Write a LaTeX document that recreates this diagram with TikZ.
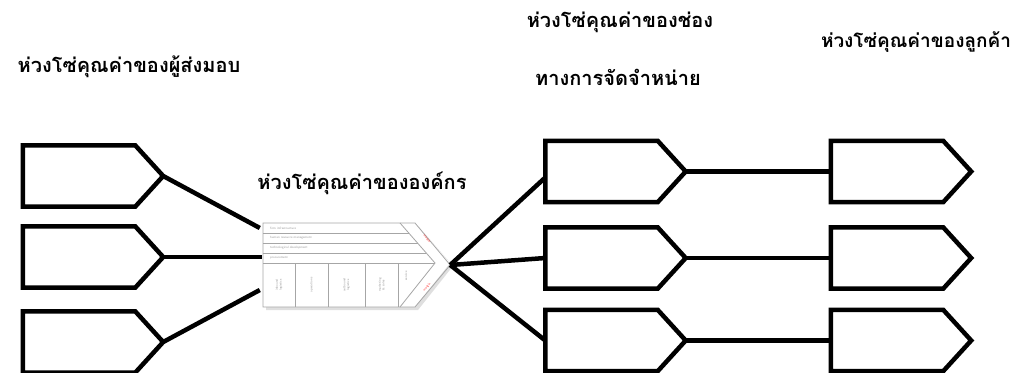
\documentclass[tikz,border=0pt]{standalone}
\usepackage{fontspec}
\newfontfamily\thaifont[Script=Thai]{Loma}
\usetikzlibrary{calc}
\begin{document}
\begin{tikzpicture}[x=1pt,y=-1pt,
  chain/.style={draw=none, minimum width=140pt, minimum height=61pt, inner sep=0pt},
  outl/.style={line width=4.5pt, line join=miter, black},
  link/.style={line width=4.5pt, black},
  lbl/.style={font=\thaifont\bfseries\fontsize{20}{24}\selectfont, inner sep=0pt, text=black},
  vcline/.style={draw=gray!70, line width=0.8pt},
  tiny/.style={font=\sffamily\fontsize{3.2}{3.6}\selectfont, text=gray!80, inner sep=0pt},
  margintxt/.style={font=\sffamily\fontsize{3.2}{3.6}\selectfont, text=red!80, inner sep=0pt}
]
\useasboundingbox (0,0) rectangle (1019,372);
\newcommand{\pent}[1]{\draw[outl] (#1.north west) -- ([xshift=-28pt]#1.north east) -- (#1.east) -- ([xshift=-28pt]#1.south east) -- (#1.south west) -- cycle;}

% supplier chains
\node[chain] (s1) at (93,176) {};
\node[chain] (s2) at (93,257) {};
\node[chain] (s3) at (93,342) {};
% channel chains
\node[chain] (c1) at (615.5,171.5) {};
\node[chain] (c2) at (615.5,258) {};
\node[chain] (c3) at (615.5,340.5) {};
% customer chains
\node[chain] (k1) at (901,171.5) {};
\node[chain] (k2) at (901,258) {};
\node[chain] (k3) at (901,340.5) {};
\foreach \n in {s1,s2,s3,c1,c2,c3,k1,k2,k3}{\pent{\n}}

% organisation value chain
\node[draw=none, minimum width=187pt, minimum height=84pt, inner sep=0pt] (vc) at (356.5,265) {};
\fill[gray!25] (266,226) -- (418,226) -- (453,266) -- (418,310) -- (266,310) -- cycle;
\fill[white] (263,223) -- (415,223) -- (450,263) -- (415,307) -- (263,307) -- cycle;
\draw[vcline] (263,223) -- (415,223) -- (vc.east) -- (415,307) -- (263,307) -- cycle;
\draw[vcline] (400,223) -- (435,263) -- (400,307);
\foreach \y in {233,243,253}{\draw[vcline] (263,\y) -- ({400+35*(\y-223)/40},\y);}
\draw[vcline] (263,263) -- (435,263);
\foreach \x in {295,328,365,398}{\draw[vcline] (\x,263) -- (\x,307);}
\node[tiny, anchor=west] (sa1) at (270,228) {firm infrastructure};
\node[tiny, anchor=west] (sa2) at (270,238) {human resource management};
\node[tiny, anchor=west] (sa3) at (270,248) {technological development};
\node[tiny, anchor=west] (sa4) at (270,258) {procurement};
\node[tiny, rotate=90, align=center] (pa1) at (279,285) {inbound\\logistics};
\node[tiny, rotate=90, align=center] (pa2) at (311.5,285) {operations};
\node[tiny, rotate=90, align=center] (pa3) at (346.5,285) {outbound\\logistics};
\node[tiny, rotate=90, align=center] (pa4) at (381.5,285) {marketing\\\& sales};
\node[tiny, rotate=90, align=center] (pa5) at (406,276) {service};
\node[margintxt, rotate=-49] (m1) at (427,239) {margin};
\node[margintxt, rotate=49] (m2) at (427,287) {margin};

% connectors
\draw[link] (s1.east) -- ([xshift=-3pt,yshift=37pt]vc.west);
\draw[link] (s2.east) -- ([xshift=-1pt,yshift=8pt]vc.west);
\draw[link] (s3.east) -- ([xshift=-3pt,yshift=-25pt]vc.west);
\draw[link] (vc.east) -- ([yshift=-6pt]c1.west);
\draw[link] (vc.east) -- (c2.west);
\draw[link] (vc.east) -- (c3.west);
\draw[link] (c1.east) -- (k1.west);
\draw[link] (c2.east) -- (k2.west);
\draw[link] (c3.east) -- (k3.west);

% labels
\node[lbl] (t1) at (129,67) {ห่วงโซ่คุณค่าของผู้ส่งมอบ};
\node[lbl] (t2) at (362,183) {ห่วงโซ่คุณค่าขององค์กร};
\node[lbl] (t3) at (620,22) {ห่วงโซ่คุณค่าของช่อง};
\node[lbl] (t4) at (618,77) {ทางการจัดจำหน่าย};
\node[lbl, font=\thaifont\bfseries\fontsize{19}{23}\selectfont] (t5) at (916,42) {ห่วงโซ่คุณค่าของลูกค้า};
\end{tikzpicture}
\end{document}
